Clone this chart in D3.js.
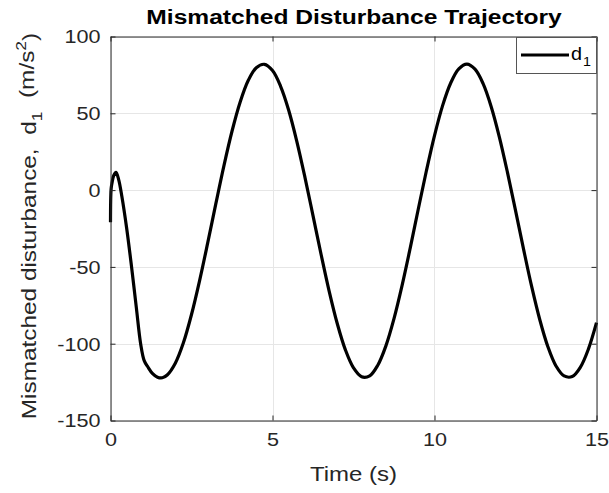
<!DOCTYPE html>
<html>
<head>
<meta charset="utf-8">
<script src="https://cdn.jsdelivr.net/npm/d3@7"></script>
<style>
  html, body { margin: 0; padding: 0; background: #fff; }
  svg text { font-family: "Liberation Sans", Arial, Helvetica, sans-serif; fill: #262626; }
</style>
</head>
<body>
<svg id="chart" width="609" height="493"></svg>
<script>
// Time samples (s) and the mismatched disturbance d1 (m/s^2)
const timeS = [
  0, 0.02, 0.05, 0.1, 0.17, 0.25, 0.35, 0.5, 0.65, 0.8, 0.93, 1.04, 1.15, 1.3, 1.45, 1.6,
  1.75, 2.0, 2.25, 2.5, 2.75, 3.0, 3.25, 3.5, 3.75, 4.0, 4.25, 4.5, 4.75, 5.0,
  5.25, 5.5, 5.75, 6.0, 6.25, 6.5, 6.75, 7.0, 7.25, 7.5, 7.75, 8.0, 8.25, 8.5,
  8.75, 9.0, 9.25, 9.5, 9.75, 10.0, 10.25, 10.5, 10.75, 11.0, 11.25, 11.5, 11.75,
  12.0, 12.25, 12.5, 12.75, 13.0, 13.25, 13.5, 13.75, 14.0, 14.25, 14.5, 14.75, 15.0
];
const disturbance = [
  -21, 1, 5, 9.5, 11.5, 7, -4, -25, -50, -77, -100, -111, -115, -119.5, -121.8, -122.2,
  -120.4, -112.7, -99.4, -81.0, -58.9, -34.4, -9.0, 15.8, 38.3, 57.2, 71.3, 79.7, 81.9, 77.8,
  67.6, 52.0, 31.8, 8.5, -16.6, -41.9, -65.9, -87.0, -104.0, -115.7, -121.5, -120.9, -114.0, -101.4,
  -83.7, -62.0, -37.8, -12.3, 12.6, 35.5, 55.0, 69.7, 78.9, 82.0, 78.7, 69.3, 54.3,
  34.7, 11.7, -13.2, -38.6, -62.9, -84.4, -102.0, -114.5, -121.0, -121.4, -115.4, -103.5, -86.3
];
const xTicks = [0, 5, 10, 15];
const yTicks = [-150, -100, -50, 0, 50, 100];
const titleText = "Mismatched Disturbance Trajectory";
const xLabelText = "Time (s)";
const legendName = "d";
const legendSub = "1";

const svg = d3.select("#chart");
const plot = { left: 110.5, right: 596.5, top: 36.5, bottom: 420.5 };
const stretch = 1.2;   // horizontal glyph widening for all labels
const axisColor = "#262626";

const x = d3.scaleLinear().domain([0, 15]).range([plot.left, plot.right]);
const y = d3.scaleLinear().domain([-150, 100]).range([plot.bottom, plot.top]);

// grid
const grid = svg.append("g");
grid.selectAll("line.gy").data(yTicks).join("line")
  .attr("x1", plot.left).attr("x2", plot.right)
  .attr("y1", d => Math.round(y(d)) + 0.5).attr("y2", d => Math.round(y(d)) + 0.5)
  .attr("stroke", "#e6e6e6").attr("stroke-width", 1);
grid.selectAll("line.gx").data(xTicks).join("line")
  .attr("y1", plot.top).attr("y2", plot.bottom)
  .attr("x1", d => Math.round(x(d)) + 0.5).attr("x2", d => Math.round(x(d)) + 0.5)
  .attr("stroke", "#e6e6e6").attr("stroke-width", 1);

// data line
const line = d3.line()
  .x((d, i) => x(timeS[i]))
  .y(d => y(d))
  .curve(d3.curveCatmullRom.alpha(0.5));
svg.append("path")
  .datum(disturbance)
  .attr("d", line)
  .attr("fill", "none")
  .attr("stroke", "#000")
  .attr("stroke-width", 3.2)
  .attr("stroke-linejoin", "round");

// axes (ticks inward, box on)
const fmt = d => String(d);   // plain hyphen for negatives
function styleAxis(g) {
  g.select(".domain").attr("stroke", axisColor);
  g.selectAll(".tick line").attr("stroke", axisColor);
}
const yAxisL = svg.append("g").attr("transform", `translate(${plot.left},0)`)
  .call(d3.axisLeft(y).tickValues(yTicks).tickFormat(fmt).tickSizeInner(-5).tickSizeOuter(0).tickPadding(10));
const xAxisB = svg.append("g").attr("transform", `translate(0,${plot.bottom})`)
  .call(d3.axisBottom(x).tickValues(xTicks).tickFormat(fmt).tickSizeInner(-5).tickSizeOuter(0).tickPadding(10));
const yAxisR = svg.append("g").attr("transform", `translate(${plot.right},0)`)
  .call(d3.axisRight(y).tickValues(yTicks).tickSizeInner(-5).tickSizeOuter(0).tickFormat(""));
const xAxisT = svg.append("g").attr("transform", `translate(0,${plot.top})`)
  .call(d3.axisTop(x).tickValues(xTicks).tickSizeInner(-5).tickSizeOuter(0).tickFormat(""));
[yAxisL, xAxisB, yAxisR, xAxisT].forEach(styleAxis);

yAxisL.selectAll(".tick text")
  .attr("x", -10 / stretch)
  .attr("dy", "0.36em")
  .attr("transform", `scale(${stretch},1)`)
  .style("font-size", "18px").attr("fill", axisColor);
xAxisB.selectAll(".tick text")
  .attr("y", 13).attr("dy", "0.71em")
  .attr("transform", `scale(${stretch},1)`)
  .style("font-size", "18px").attr("fill", axisColor);

// title
svg.append("g").attr("transform", "translate(354,24)")
  .append("text")
  .attr("text-anchor", "middle")
  .attr("transform", `scale(${stretch},1)`)
  .style("font-size", "20.5px").style("font-weight", "bold").style("fill", "#000")
  .text(titleText);

// x label
svg.append("g").attr("transform", "translate(353.5,481)")
  .append("text")
  .attr("text-anchor", "middle")
  .attr("transform", `scale(${stretch},1)`)
  .style("font-size", "20px")
  .text(xLabelText);

// y label with subscript and superscript
const yl = svg.append("g").attr("transform", "translate(36,226) rotate(-90)")
  .append("text")
  .attr("text-anchor", "middle")
  .attr("transform", "scale(1.25,1)")
  .style("font-size", "19.5px")
  .style("white-space", "pre");
yl.append("tspan").text("Mismatched disturbance,  d");
yl.append("tspan").attr("dy", "0.4em").style("font-size", "14px").text(legendSub);
yl.append("tspan").attr("dy", "-0.4em").text("  (m/s");
yl.append("tspan").attr("dy", "-0.55em").style("font-size", "14px").text("2");
yl.append("tspan").attr("dy", "0.55em").text(")");

// legend
const lg = svg.append("g");
lg.append("rect")
  .attr("x", 516.5).attr("y", 37.5).attr("width", 80).attr("height", 36)
  .attr("fill", "#fff").attr("stroke", "#555").attr("stroke-width", 1);
lg.append("line")
  .attr("x1", 521).attr("x2", 569).attr("y1", 55).attr("y2", 55)
  .attr("stroke", "#000").attr("stroke-width", 3.2);
const lt = lg.append("g").attr("transform", "translate(571,60)")
  .append("text")
  .attr("transform", `scale(1.1,1)`)
  .style("font-size", "18px").style("fill", "#000");
lt.append("tspan").text(legendName);
lt.append("tspan").attr("dx", "1").attr("dy", "0.45em").style("font-size", "13px").text(legendSub);
</script>
</body>
</html>
